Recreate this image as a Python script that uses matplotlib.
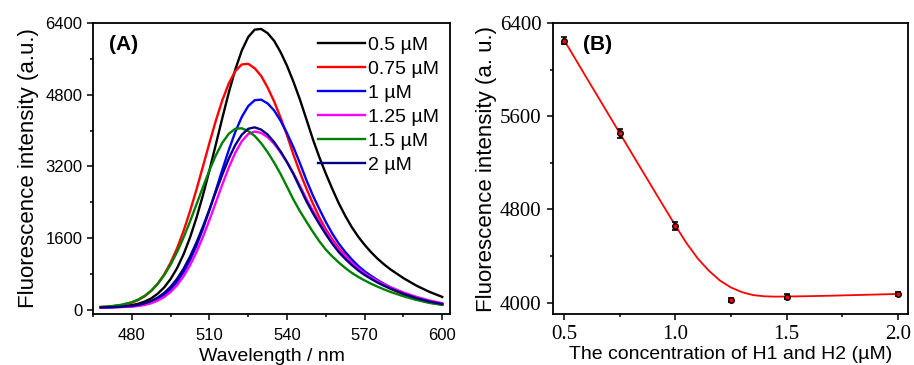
import numpy as np
import matplotlib.pyplot as plt
from matplotlib.ticker import MultipleLocator

# --- panel A : emission spectra ---
wavelength = [468, 472, 476, 480, 482.5, 485, 487.5, 490, 492.5, 495, 497.5, 500, 502.5, 505, 507.5,
              510, 512.5, 515, 517.5, 520, 522.5, 525, 527.5, 530, 532.5, 535, 537.5, 540, 542.5, 545,
              547.5, 550, 552.5, 555, 557.5, 560, 562.5, 565, 567.5, 570, 572.5, 575, 577.5, 580,
              585, 590, 595, 600]

spec_05 = [59, 66, 81, 108, 139, 188, 259, 362, 502, 690, 933, 1240, 1614, 2056, 2559, 3112, 3695, 4284,
           4851, 5361, 5783, 6087, 6252, 6267, 6173, 6004, 5752, 5445, 5087, 4691, 4252, 3806, 3406, 3040,
           2700, 2380, 2100, 1850, 1636, 1452, 1288, 1143, 1017, 904, 710, 543, 405, 291]
spec_075 = [65, 79, 110, 164, 222, 306, 424, 583, 791, 1054, 1377, 1760, 2201, 2686, 3202, 3723, 4225, 4679,
            5054, 5327, 5475, 5489, 5391, 5220, 4961, 4653, 4290, 3894, 3460, 3066, 2709, 2374, 2064, 1797,
            1575, 1381, 1210, 1060, 935, 823, 721, 635, 550, 473, 343, 237, 165, 118]
spec_1 = [57, 60, 69, 82, 99, 129, 173, 238, 331, 457, 625, 842, 1111, 1434, 1809, 2226, 2672, 3128,
          3569, 3971, 4304, 4546, 4678, 4691, 4606, 4451, 4221, 3943, 3628, 3271, 2895, 2554, 2250, 1962,
          1703, 1480, 1294, 1130, 984, 863, 761, 666, 583, 508, 374, 266, 183, 127]
spec_125 = [56, 59, 65, 75, 89, 113, 150, 208, 289, 402, 553, 750, 995, 1290, 1630, 2006, 2403, 2801,
            3177, 3506, 3762, 3924, 3980, 3948, 3853, 3709, 3514, 3295, 3045, 2770, 2476, 2211, 1972, 1743,
            1531, 1344, 1188, 1048, 924, 815, 724, 645, 571, 505, 390, 293, 213, 151]
spec_15 = [67, 83, 116, 173, 233, 317, 431, 582, 774, 1010, 1292, 1615, 1973, 2354, 2741, 3114, 3450, 3729,
           3930, 4042, 4052, 3991, 3881, 3719, 3520, 3289, 3033, 2749, 2460, 2202, 1969, 1742, 1532, 1346,
           1194, 1059, 937, 829, 739, 658, 585, 520, 459, 402, 305, 225, 158, 114]
spec_2 = [58, 62, 73, 91, 113, 149, 201, 276, 379, 517, 695, 919, 1190, 1506, 1860, 2242, 2636, 3022,
          3377, 3680, 3907, 4041, 4073, 4022, 3912, 3745, 3537, 3297, 3028, 2726, 2425, 2159, 1917, 1688,
          1476, 1292, 1139, 1004, 883, 780, 693, 611, 540, 478, 361, 265, 189, 132]

spec_labels = ["0.5 µM", "0.75 µM", "1 µM", "1.25 µM", "1.5 µM", "2 µM"]
spec_colors = ["black", "#ff0000", "#0000ff", "#ff00ff", "#008000", "#000080"]

# --- panel B : peak intensity vs concentration ---
conc = [0.5, 0.75, 1.0, 1.25, 1.5, 2.0]
peak = [6246, 5452, 4658, 4023, 4051, 4075]
peak_err = [30, 35, 35, 15, 20, 20]

fit_conc = [0.5, 0.6, 0.7, 0.8, 0.9, 1.0, 1.05, 1.1, 1.15, 1.2, 1.25, 1.3, 1.35, 1.4, 1.45, 1.5,
            1.6, 1.7, 1.8, 1.9, 2.0]
fit_vals = [6250, 5930, 5612, 5293, 4975, 4660, 4510, 4380, 4275, 4190, 4130, 4090, 4065, 4055, 4052, 4053,
            4056, 4060, 4065, 4070, 4075]

sans = ["Liberation Sans", "DejaVu Sans"]
serif = ["Liberation Serif", "DejaVu Serif"]

fig = plt.figure(figsize=(9.14, 3.65), dpi=100)
axA = fig.add_axes([93 / 914, 51 / 365, 357 / 914, 291 / 365])
axB = fig.add_axes([553 / 914, 51 / 365, 355 / 914, 291 / 365])

for i, sp in enumerate([spec_05, spec_075, spec_1, spec_125, spec_15, spec_2]):
    axA.plot(wavelength, sp, color=spec_colors[i], lw=1.7, label=spec_labels[i])

axA.set_xlim(465, 603)
axA.set_ylim(-90, 6400)
axA.xaxis.set_major_locator(MultipleLocator(30))
axA.xaxis.set_minor_locator(MultipleLocator(15))
axA.yaxis.set_major_locator(MultipleLocator(1600))
axA.yaxis.set_minor_locator(MultipleLocator(800))
axA.set_xlabel("Wavelength / nm", fontsize=14, family=sans, labelpad=4)
axA.set_ylabel("Fluorescence intensity (a.u.)", fontsize=16, family=sans, labelpad=5)
axA.text(0.045, 0.925, "(A)", transform=axA.transAxes, fontsize=15, fontweight="bold",
         family=sans, va="center")
axA.legend(loc="upper left", bbox_to_anchor=(0.63, 0.955), frameon=False,
           prop={"family": sans, "size": 14}, handlelength=2.42, handletextpad=0.15,
           labelspacing=0.33, borderpad=0, borderaxespad=0)
axA.tick_params(labelsize=12, labelfontfamily=sans)

axB.plot(fit_conc, fit_vals, color="#ff0000", lw=1.3)
axB.errorbar(conc, peak, yerr=peak_err, fmt="o", ms=4, mfc="#ff0000", mec="black",
             ecolor="black", elinewidth=1.5, capsize=2.5, capthick=1.2)
axB.set_xlim(0.449, 2.046)
axB.set_ylim(3903, 6400)
axB.xaxis.set_major_locator(MultipleLocator(0.5))
axB.xaxis.set_minor_locator(MultipleLocator(0.25))
axB.yaxis.set_major_locator(MultipleLocator(800))
axB.yaxis.set_minor_locator(MultipleLocator(400))
axB.set_xticks([0.5, 1.0, 1.5, 2.0])
axB.set_xticklabels(["0.5", "1.0", "1.5", "2.0"])
axB.set_xlabel("The concentration of H1 and H2 (µM)", fontsize=14, family=sans, labelpad=1)
axB.set_ylabel("Fluorescence intensity (a. u.)", fontsize=16, family=sans, labelpad=2)
axB.text(0.085, 0.925, "(B)", transform=axB.transAxes, fontsize=15, fontweight="bold",
         family=sans, va="center")
axB.tick_params(labelsize=15, labelfontfamily=serif)

for ax in (axA, axB):
    for s in ax.spines.values():
        s.set_linewidth(1.3)
    ax.tick_params(which="both", direction="out", width=1.1, top=False, right=False)
    ax.tick_params(which="major", length=4)
    ax.tick_params(which="minor", length=2.5)
axA.tick_params(axis="x", pad=6)
axA.tick_params(axis="y", pad=3.5)
axB.tick_params(axis="both", pad=4.2)

fig.savefig("out.png", dpi=100)
